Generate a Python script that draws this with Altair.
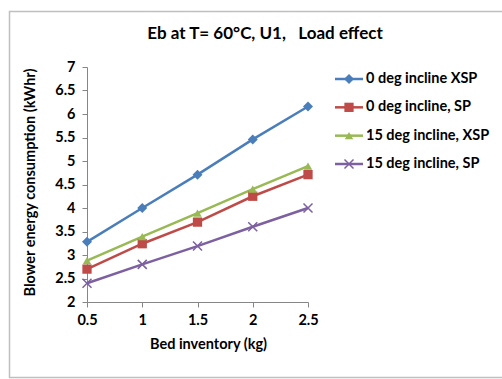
import altair as alt
import pandas as pd

# ---- data ----
bed_inventory = [0.5, 1.0, 1.5, 2.0, 2.5]
series_names = ["0 deg incline XSP", "0 deg incline, SP", "15 deg incline, XSP", "15 deg incline, SP"]
s_0deg_xsp = [3.28, 4.00, 4.71, 5.46, 6.16]
s_0deg_sp = [2.70, 3.24, 3.70, 4.25, 4.71]
s_15deg_xsp = [2.88, 3.39, 3.89, 4.40, 4.89]
s_15deg_sp = [2.40, 2.80, 3.19, 3.60, 4.00]
x_ticks = [0.5, 1.0, 1.5, 2.0, 2.5]
y_ticks = [2, 2.5, 3, 3.5, 4, 4.5, 5, 5.5, 6, 6.5, 7]

colors = ["#4A7EBB", "#BE4B48", "#98B954", "#7D60A0"]
X_PATH = "M-1,-1L1,1M-1,1L1,-1"
FONT = "Lato"
FS = 14.5

rows = []
for name, vals in zip(series_names, [s_0deg_xsp, s_0deg_sp, s_15deg_xsp, s_15deg_sp]):
    for x, y in zip(bed_inventory, vals):
        rows.append({"series": name, "x": x, "y": y})
df = pd.DataFrame(rows)
leg_df = pd.DataFrame({"series": series_names})

color = alt.Color("series:N", scale=alt.Scale(domain=series_names, range=colors), legend=None)
shape = alt.Shape("series:N", scale=alt.Scale(domain=series_names[:3], range=["diamond", "square", "triangle-up"]), legend=None)
size = alt.Size("series:N", scale=alt.Scale(domain=series_names[:3], range=[100, 72, 95]), legend=None)

xenc = alt.X("x:Q", scale=alt.Scale(domain=[0.5, 2.5]),
             axis=alt.Axis(values=x_ticks, title="Bed inventory (kg)", labelExpr="'' + datum.value",
                           titleX=121, titleY=42, titleBaseline="middle", titleAlign="center",
                           labelPadding=6, labelFlush=False))
yenc = alt.Y("y:Q", scale=alt.Scale(domain=[2, 7]),
             axis=alt.Axis(values=y_ticks, title="Blower energy consumption (kWhr)", labelExpr="'' + datum.value",
                           titleX=-57, titleY=115, titleBaseline="middle", titleAlign="center",
                           labelPadding=7, labelFlush=False))

base = alt.Chart(df).encode(x=xenc, y=yenc, color=color)
lines = base.mark_line(strokeWidth=2.5)
pts = base.transform_filter(alt.FieldOneOfPredicate(field="series", oneOf=series_names[:3])).mark_point(
    filled=True, opacity=1).encode(shape=shape, size=size)
pts_x = base.transform_filter(alt.FieldEqualPredicate(field="series", equal=series_names[3])).mark_point(
    shape=X_PATH, filled=False, size=81, strokeWidth=1.5, opacity=1)
main = alt.layer(lines, pts, pts_x)

# ---- legend ----
ly = alt.Y("series:N", scale=alt.Scale(type="point", domain=series_names, range=[12, 97], padding=0), axis=None)
lbase = alt.Chart(leg_df).encode(y=ly, color=color)
l_rule = lbase.mark_rule(strokeWidth=2.5).encode(x=alt.value(248), x2=alt.value(276))
l_pts = lbase.transform_filter(alt.FieldOneOfPredicate(field="series", oneOf=series_names[:3])).mark_point(
    filled=True, opacity=1).encode(x=alt.value(262), shape=shape, size=size)
l_ptx = lbase.transform_filter(alt.FieldEqualPredicate(field="series", equal=series_names[3])).mark_point(
    shape=X_PATH, filled=False, size=81, strokeWidth=1.5, opacity=1).encode(x=alt.value(262))
l_text = alt.Chart(leg_df).mark_text(align="left", baseline="middle", font=FONT, fontSize=FS,
                                     fontWeight="bold", color="black").encode(
    x=alt.value(279), y=ly, text="series:N")
legend = alt.layer(l_rule, l_pts, l_ptx, l_text)

one = pd.DataFrame({"a": [0]})
frame = alt.Chart(one).mark_rect(fill=None, stroke="#BFBFBF", strokeWidth=1.5).encode(
    x=alt.value(-77.5), x2=alt.value(430), y=alt.value(-55.5), y2=alt.value(310.5))
title = alt.Chart(one).mark_text(text="Eb at T= 60°C, U1,\u00a0\u00a0 Load effect", font=FONT, fontSize=17,
                                 fontWeight="bold", color="black", align="center", baseline="middle").encode(
    x=alt.value(178), y=alt.value(-33))

chart = alt.layer(frame, title, main, legend).resolve_scale(y="independent").properties(
    width=221, height=235,
    autosize=alt.AutoSizeParams(type="none"),
    padding={"left": 87, "top": 67, "right": 194, "bottom": 77},
    background="white",
).configure_view(stroke=None).configure_axis(
    grid=False, domainColor="#868686", tickColor="#868686", tickSize=5,
    labelFont=FONT, labelFontSize=FS, labelFontWeight="bold", labelColor="black",
    titleFont=FONT, titleFontSize=FS, titleFontWeight="bold", titleColor="black",
)

chart.save("out.html", embed_options={"renderer": "svg", "actions": False})
